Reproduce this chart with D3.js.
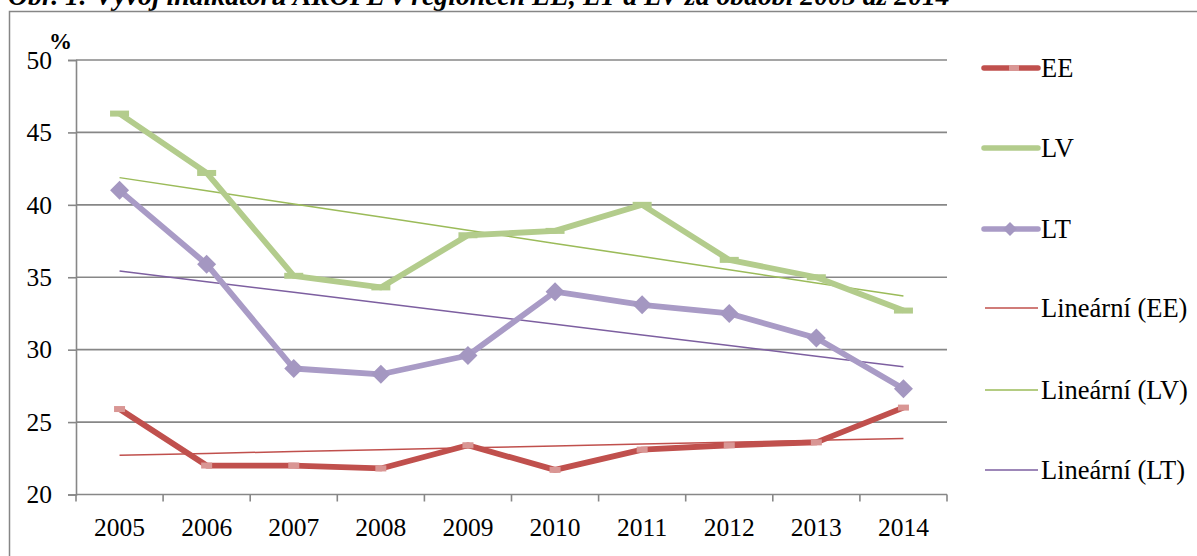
<!DOCTYPE html>
<html>
<head>
<meta charset="utf-8">
<script src="https://cdn.jsdelivr.net/npm/d3@7"></script>
<style>
  html, body { margin: 0; padding: 0; background: #fff; }
  svg { display: block; }
  text { font-family: "Liberation Serif", "Times New Roman", serif; fill: #000; }
</style>
</head>
<body>
<svg id="chart" width="1197" height="556"></svg>
<script>
// ---- data ----
const titleText = "Obr. 1: Vývoj indikátoru AROPE v regionech EE, LT a LV za období 2005 až 2014";
const years = ["2005","2006","2007","2008","2009","2010","2011","2012","2013","2014"];
const EE = [25.9, 22.0, 22.0, 21.8, 23.4, 21.7, 23.1, 23.4, 23.6, 26.0];
const LV = [46.3, 42.2, 35.1, 34.3, 37.9, 38.2, 40.0, 36.2, 35.0, 32.7];
const LT = [41.0, 35.9, 28.7, 28.3, 29.6, 34.0, 33.1, 32.5, 30.8, 27.3];
const yTicks = [20, 25, 30, 35, 40, 45, 50];
const unitLabel = "%";
const legendLabels = ["EE", "LV", "LT", "Lineární (EE)", "Lineární (LV)", "Lineární (LT)"];

// ---- layout ----
const svg = d3.select("#chart");
const pLeft = 76, pRight = 947, pTop = 60, pBottom = 494.5;

const x = d3.scaleBand().domain(years).range([pLeft, pRight]).padding(0);
const y = d3.scaleLinear().domain([20, 50]).range([pBottom, pTop]);
const cx = d => x(d) + x.bandwidth() / 2;

// title (cut off at top, as in the source)
const title = svg.append("text")
  .attr("x", 8).attr("y", 5)
  .style("font-weight", "bold").style("font-style", "italic")
  .style("font-size", "22px")
  .text(titleText);
const tw = title.node().getComputedTextLength();
title.style("font-size", (22 * 942 / tw) + "px");

// outer border
svg.append("rect").attr("x", 9.5).attr("y", 11.5).attr("width", 1300).attr("height", 700)
  .attr("fill", "none").attr("stroke", "#868686").attr("stroke-width", 1.5);

// gridlines
svg.append("g").selectAll("line").data(yTicks.filter(t => t !== 20)).join("line")
  .attr("x1", pLeft).attr("x2", pRight)
  .attr("y1", d => y(d)).attr("y2", d => y(d))
  .attr("stroke", "#878787").attr("stroke-width", 1.6);

// y axis
const yAxis = svg.append("g").attr("transform", `translate(${pLeft},0)`)
  .call(d3.axisLeft(y).tickValues(yTicks).tickSize(8).tickPadding(16).tickFormat(d3.format("d")));
yAxis.select(".domain").attr("stroke", "#878787").attr("stroke-width", 1.6);
yAxis.selectAll(".tick line").attr("stroke", "#878787").attr("stroke-width", 1.6);
yAxis.selectAll("text").style("font-size", "25.5px").attr("fill", "#000");

// x axis
const xAxis = svg.append("g").attr("transform", `translate(0,${pBottom})`)
  .call(d3.axisBottom(x).tickSize(0).tickPadding(23));
xAxis.select(".domain").remove();
xAxis.selectAll("text").style("font-size", "25.5px").attr("fill", "#000");
svg.append("line").attr("x1", pLeft).attr("x2", pRight).attr("y1", pBottom).attr("y2", pBottom)
  .attr("stroke", "#878787").attr("stroke-width", 1.6);
svg.append("g").selectAll("line").data(d3.range(years.length + 1)).join("line")
  .attr("x1", i => pLeft + i * x.bandwidth()).attr("x2", i => pLeft + i * x.bandwidth())
  .attr("y1", pBottom).attr("y2", pBottom + 7)
  .attr("stroke", "#878787").attr("stroke-width", 1.6);

// unit label
svg.append("text").attr("x", 49).attr("y", 49)
  .style("font-weight", "bold").style("font-size", "23px").text(unitLabel);

// trend lines (least squares)
function trend(vals) {
  const xs = vals.map((_, i) => i);
  const mx = d3.mean(xs), my = d3.mean(vals);
  const b = d3.sum(xs, (xi, i) => (xi - mx) * (vals[i] - my)) / d3.sum(xs, xi => (xi - mx) ** 2);
  const a = my - b * mx;
  return vals.map((_, i) => a + b * i);
}
const line = d3.line().x((d, i) => cx(years[i])).y(d => y(d));

const series = [
  { name: "EE", vals: EE, color: "#c0504d", marker: "#d99694", tcolor: "#c0504d" },
  { name: "LV", vals: LV, color: "#b3cc8c", marker: "#b3cc8c", tcolor: "#9bbb59" },
  { name: "LT", vals: LT, color: "#a99bc6", marker: "#a497c1", tcolor: "#7d5fa0" }
];

// trend lines
series.forEach(s => {
  svg.append("path").datum(trend(s.vals)).attr("d", line)
    .attr("fill", "none").attr("stroke", s.tcolor).attr("stroke-width", 1.5);
});

// data lines
series.forEach(s => {
  svg.append("path").datum(s.vals).attr("d", line)
    .attr("fill", "none").attr("stroke", s.color).attr("stroke-width", 5.8)
    .attr("stroke-linejoin", "round");
});

// markers
svg.append("g").selectAll("rect").data(EE).join("rect")
  .attr("x", (d, i) => cx(years[i]) - 5.5).attr("y", d => y(d) - 3)
  .attr("width", 11).attr("height", 6).attr("fill", "#d99694");
svg.append("g").selectAll("rect").data(LV).join("rect")
  .attr("x", (d, i) => cx(years[i]) - 9.5).attr("y", d => y(d) - 3)
  .attr("width", 19).attr("height", 6).attr("fill", "#b3cc8c");
svg.append("g").selectAll("path").data(LT).join("path")
  .attr("d", (d, i) => { const px = cx(years[i]), py = y(d), r = 9.5;
    return `M${px},${py - r}L${px + r},${py}L${px},${py + r}L${px - r},${py}Z`; })
  .attr("fill", "#a497c1");

// legend
const legY = [68, 148, 229, 308, 390, 470];
const lg = svg.append("g");
legendLabels.forEach((lab, i) => {
  const s = series[i % 3];
  const yy = legY[i];
  const thick = i < 3;
  lg.append("line").attr("x1", thick ? 984 : 985).attr("x2", 1038).attr("y1", yy).attr("y2", yy)
    .attr("stroke", thick ? s.color : s.tcolor).attr("stroke-width", thick ? 5.5 : 1.5)
    .attr("stroke-linecap", thick ? "round" : "butt");
  if (i === 0) lg.append("rect").attr("x", 1009).attr("y", yy - 3).attr("width", 10).attr("height", 6).attr("fill", "#d99694");
  if (i === 2) lg.append("path").attr("d", `M1010,${yy - 7}L1017,${yy}L1010,${yy + 7}L1003,${yy}Z`).attr("fill", "#a497c1");
  lg.append("text").attr("x", 1041).attr("y", yy).attr("dy", "0.33em")
    .style("font-size", "26.5px").text(lab);
});
</script>
</body>
</html>
